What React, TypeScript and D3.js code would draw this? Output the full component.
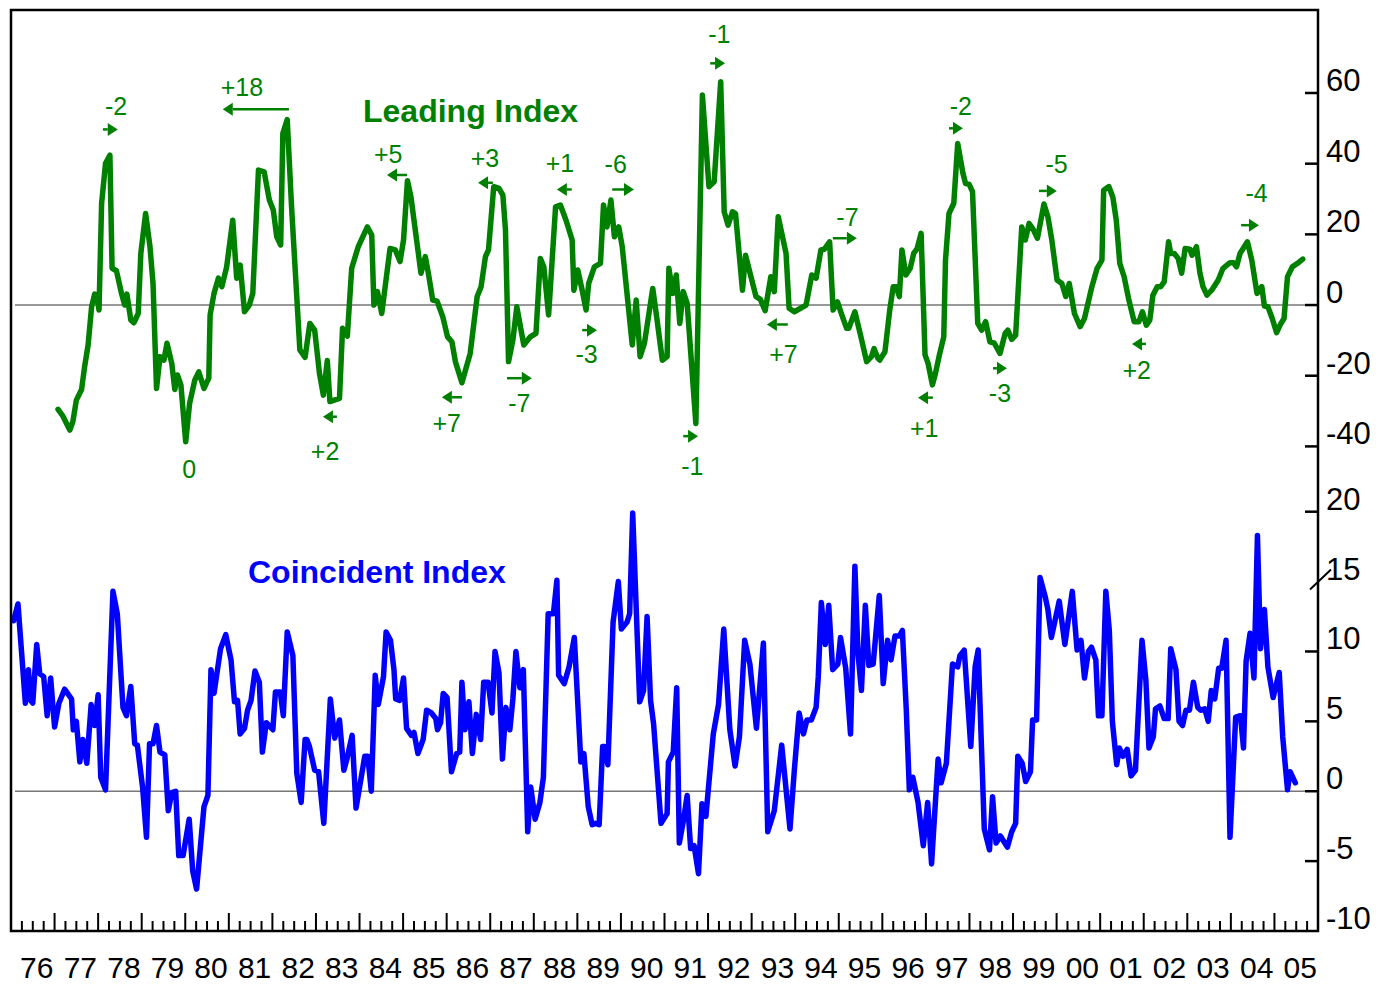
import React from "react";
import * as d3 from "d3";

// leading index, growth rate (%), [year, value]
const leading: [number, number][] = [
  [1977.08, -29.5], [1977.19, -31.4], [1977.35, -35.4], [1977.42, -33], [1977.5, -26.9], [1977.62, -23.9],
  [1977.69, -17.4], [1977.77, -11.3], [1977.85, -0.5], [1977.92, 3.1], [1977.97, 2.8], [1978.02, -1.4],
  [1978.08, 28.8], [1978.17, 40.1], [1978.27, 42.4], [1978.32, 10.4], [1978.42, 9.7], [1978.54, 3.1],
  [1978.61, 0], [1978.66, 3.1], [1978.75, -4.2], [1978.82, -5], [1978.92, -2.4], [1978.98, 14.6],
  [1979.09, 25.9], [1979.19, 16.5], [1979.26, 6.1], [1979.34, -23.6], [1979.42, -14.6], [1979.51, -15.6],
  [1979.58, -10.8], [1979.69, -16.5], [1979.76, -23.9], [1979.82, -19.8], [1979.9, -22.6], [1980.01, -38.7],
  [1980.1, -27.8], [1980.22, -21.2], [1980.31, -18.9], [1980.43, -23.6], [1980.54, -20.7], [1980.57, -2.8],
  [1980.66, 3.3], [1980.76, 7.6], [1980.84, 5.2], [1980.95, 10.8], [1981.09, 24.0], [1981.18, 7.6],
  [1981.26, 11.3], [1981.36, -1.9], [1981.47, 0], [1981.55, 3.3], [1981.68, 38.2], [1981.81, 37.7],
  [1981.93, 29.7], [1982.02, 26.9], [1982.1, 19.3], [1982.19, 17], [1982.24, 48.6], [1982.34, 52.5],
  [1982.44, 27.8], [1982.63, -12.7], [1982.75, -14.8], [1982.86, -5.2], [1982.97, -7.1], [1983.08, -19.3],
  [1983.17, -25.5], [1983.26, -15.7], [1983.32, -27.3], [1983.54, -26.4], [1983.61, -6.6], [1983.72, -8.8],
  [1983.82, 10.4], [1983.97, 16.5], [1984.18, 22.1], [1984.28, 19.8], [1984.33, 0], [1984.41, 3.8],
  [1984.51, -2.4], [1984.7, 16], [1984.82, 15.6], [1984.93, 12.3], [1985.01, 18.4], [1985.1, 35.2],
  [1985.18, 30.6], [1985.28, 21.2], [1985.41, 9.0], [1985.51, 13.7], [1985.58, 9.0], [1985.68, 1.4],
  [1985.78, 1.1], [1985.91, -3.3], [1986.02, -9], [1986.12, -10.4], [1986.2, -16], [1986.35, -22],
  [1986.54, -13.7], [1986.7, 2.4], [1986.79, 5.2], [1986.89, 13.7], [1986.96, 15.6], [1987.08, 33.5],
  [1987.2, 33.0], [1987.29, 31.1], [1987.35, 21.2], [1987.42, -16], [1987.52, -9.9], [1987.61, -0.5],
  [1987.77, -11.3], [1987.92, -9], [1988.05, -8], [1988.15, 13.2], [1988.23, 10.8], [1988.34, -2.8],
  [1988.5, 27.8], [1988.61, 28.3], [1988.74, 24], [1988.88, 18.4], [1988.92, 4.2], [1989.01, 9.9],
  [1989.11, 4.2], [1989.2, -1.4], [1989.26, 6.1], [1989.39, 10.8], [1989.53, 11.8], [1989.6, 28.3],
  [1989.68, 22.1], [1989.77, 29.7], [1989.85, 19.3], [1989.95, 22.1], [1990.03, 16.5], [1990.26, -11.3],
  [1990.35, 1.4], [1990.44, -14.6], [1990.54, -10.8], [1990.73, 4.7], [1990.81, -2.4], [1990.95, -15.6],
  [1991.06, -14.6], [1991.1, 10.4], [1991.19, 3.3], [1991.27, 8.5], [1991.35, -5.2], [1991.43, 3.8],
  [1991.52, 0.5], [1991.72, -33.5], [1991.87, 59.4], [1992.02, 33.5], [1992.14, 34.9], [1992.29, 63.2],
  [1992.37, 26.4], [1992.46, 22.6], [1992.56, 26.4], [1992.63, 25.9], [1992.79, 4.2], [1992.86, 14.1],
  [1993.1, 2.4], [1993.2, 1.6], [1993.31, -1.6], [1993.44, 8], [1993.52, 3.8], [1993.61, 25],
  [1993.79, 14.6], [1993.86, -0.9], [1993.98, -1.9], [1994.25, 0], [1994.38, 8.5], [1994.48, 7.6],
  [1994.59, 15.6], [1994.67, 15.8], [1994.79, 17.9], [1994.87, -1.4], [1994.97, 0.9], [1995.06, -2.4],
  [1995.18, -6.6], [1995.23, -6.6], [1995.37, -1.9], [1995.49, -8], [1995.64, -16], [1995.75, -14.6],
  [1995.81, -12.3], [1995.9, -15.1], [1995.94, -15.6], [1996.06, -13.2], [1996.17, -1.4], [1996.25, 5.2],
  [1996.32, 5.2], [1996.39, 2.4], [1996.45, 15.6], [1996.54, 8.5], [1996.64, 10.4], [1996.72, 14.6],
  [1996.8, 16], [1996.89, 20.3], [1996.98, -14.1], [1997.05, -16.5], [1997.15, -22.6], [1997.22, -19.3],
  [1997.31, -14.1], [1997.41, -9], [1997.45, 12.7], [1997.53, 25.9], [1997.64, 28.8], [1997.73, 45.7],
  [1997.85, 37.3], [1997.91, 34.4], [1997.99, 34.2], [1998.07, 32.1], [1998.19, -5.2], [1998.28, -7.1],
  [1998.37, -4.7], [1998.47, -10.4], [1998.57, -10.8], [1998.7, -13.7], [1998.82, -8], [1998.88, -7.1],
  [1998.97, -9.7], [1999.06, -8.5], [1999.2, 22.1], [1999.28, 18.4], [1999.37, 23.1], [1999.47, 21.2],
  [1999.56, 18.9], [1999.71, 28.6], [1999.8, 25], [1999.89, 18.4], [2000.01, 7.1], [2000.12, 6.1],
  [2000.21, 2.4], [2000.29, 6.1], [2000.41, -2.4], [2000.54, -6.1], [2000.64, -3.8], [2000.81, 5.2],
  [2000.93, 10.4], [2001.04, 12.7], [2001.08, 32.5], [2001.2, 33.5], [2001.29, 30.6], [2001.37, 24],
  [2001.45, 11.8], [2001.55, 8], [2001.65, 1.9], [2001.78, -4.7], [2001.89, -4.7], [2001.97, -1.9],
  [2002.06, -5.7], [2002.14, -4.2], [2002.21, 2.8], [2002.31, 5.2], [2002.39, 5.2], [2002.47, 6.6],
  [2002.57, 17.9], [2002.62, 14.6], [2002.7, 14.6], [2002.79, 13.2], [2002.87, 9], [2002.95, 16],
  [2003.06, 15.8], [2003.11, 14.1], [2003.21, 16.5], [2003.29, 9], [2003.36, 5.2], [2003.45, 2.8],
  [2003.56, 4.2], [2003.71, 7.1], [2003.82, 10.4], [2003.98, 12], [2004.06, 12], [2004.13, 10.8],
  [2004.21, 14.6], [2004.38, 17.9], [2004.48, 12.7], [2004.6, 3.3], [2004.71, 5.2], [2004.77, -0.3],
  [2004.85, -0.5], [2004.95, -3.8], [2005.05, -7.8], [2005.14, -5.4], [2005.22, -3.8], [2005.3, 8],
  [2005.41, 10.8], [2005.53, 11.8], [2005.65, 13.0],
];

// coincident index, growth rate (%), [year, value]
const coincident: [number, number][] = [
  [1976.06, 12.2], [1976.16, 13.4], [1976.33, 6.3], [1976.4, 8.7], [1976.45, 6.5], [1976.5, 6.3],
  [1976.59, 10.5], [1976.66, 8.4], [1976.75, 8.2], [1976.83, 5.4], [1976.91, 8.1], [1977.0, 4.6],
  [1977.1, 6.3], [1977.23, 7.3], [1977.39, 6.6], [1977.43, 4.4], [1977.5, 5.0], [1977.58, 2.1],
  [1977.65, 3.7], [1977.74, 2.0], [1977.84, 6.2], [1977.92, 4.7], [1978.0, 6.9], [1978.06, 1.0],
  [1978.17, 0.1], [1978.34, 14.3], [1978.44, 12.7], [1978.57, 6.0], [1978.65, 5.4], [1978.75, 7.5],
  [1978.84, 3.4], [1978.9, 3.3], [1979.02, 0.3], [1979.11, -3.3], [1979.18, 3.4], [1979.26, 3.4],
  [1979.34, 4.7], [1979.42, 2.8], [1979.53, 2.6], [1979.61, -1.4], [1979.69, -0.1], [1979.78, 0],
  [1979.85, -4.6], [1979.95, -4.6], [1980.09, -2.0], [1980.17, -5.7], [1980.26, -7.0], [1980.43, -1.1],
  [1980.52, -0.3], [1980.59, 8.7], [1980.66, 7.0], [1980.81, 10.2], [1980.93, 11.2], [1981.05, 9.4],
  [1981.13, 6.4], [1981.2, 6.5], [1981.26, 4.1], [1981.36, 4.5], [1981.43, 5.8], [1981.51, 6.5],
  [1981.6, 8.6], [1981.7, 7.8], [1981.77, 2.8], [1981.86, 4.9], [1982.01, 4.4], [1982.07, 7.1],
  [1982.18, 7.1], [1982.25, 5.4], [1982.34, 11.4], [1982.47, 9.7], [1982.56, 1.3], [1982.66, -0.8],
  [1982.75, 3.7], [1982.79, 3.7], [1982.85, 3.2], [1982.97, 1.5], [1983.06, 1.4], [1983.18, -2.3],
  [1983.33, 6.6], [1983.43, 3.8], [1983.54, 5.1], [1983.64, 1.5], [1983.71, 2.3], [1983.83, 4.0],
  [1983.92, -1.2], [1984.12, 2.5], [1984.19, 2.5], [1984.27, 0], [1984.36, 8.3], [1984.43, 6.2],
  [1984.55, 8.2], [1984.61, 11.4], [1984.71, 10.8], [1984.79, 8.7], [1984.83, 6.6], [1984.92, 6.5],
  [1985.01, 8.1], [1985.08, 4.5], [1985.19, 4.0], [1985.25, 4.2], [1985.34, 2.7], [1985.46, 3.7],
  [1985.54, 5.8], [1985.65, 5.6], [1985.75, 5.2], [1985.79, 4.4], [1985.86, 4.9], [1985.92, 7.0],
  [1986.01, 6.7], [1986.11, 1.4], [1986.23, 2.7], [1986.3, 2.8], [1986.35, 7.8], [1986.42, 4.4],
  [1986.51, 6.4], [1986.59, 2.7], [1986.68, 5.5], [1986.78, 3.7], [1986.85, 7.8], [1986.95, 7.8],
  [1987.04, 5.6], [1987.11, 10.0], [1987.2, 8.5], [1987.28, 2.3], [1987.36, 6.0], [1987.45, 4.4],
  [1987.52, 6.6], [1987.59, 10.0], [1987.68, 7.4], [1987.76, 8.7], [1987.86, -2.9], [1987.93, 0.3],
  [1988.03, -2.0], [1988.14, -0.8], [1988.22, 1.0], [1988.33, 12.7], [1988.45, 12.7], [1988.53, 15.1],
  [1988.57, 8.3], [1988.7, 7.7], [1988.81, 8.9], [1988.93, 11.0], [1989.08, 2.1], [1989.15, 2.7],
  [1989.25, -1.1], [1989.34, -2.4], [1989.42, -2.3], [1989.5, -2.4], [1989.58, 3.2], [1989.62, 3.2],
  [1989.7, 1.9], [1989.82, 12.1], [1989.94, 15.0], [1990.01, 11.6], [1990.14, 12.1], [1990.2, 12.7],
  [1990.27, 19.9], [1990.43, 6.4], [1990.52, 7.2], [1990.6, 12.5], [1990.68, 6.5], [1990.75, 4.8],
  [1990.92, -2.3], [1991.06, -1.6], [1991.09, 2.1], [1991.2, 2.8], [1991.28, 7.4], [1991.34, -3.7],
  [1991.44, -2.0], [1991.52, -0.3], [1991.6, -4.1], [1991.68, -3.9], [1991.78, -5.9], [1991.86, -0.9],
  [1991.95, -1.8], [1992.12, 4.1], [1992.24, 6.2], [1992.36, 11.6], [1992.5, 4.4], [1992.62, 1.8],
  [1992.72, 3.9], [1992.84, 10.8], [1992.96, 9.1], [1993.11, 4.5], [1993.27, 10.6], [1993.37, -2.9],
  [1993.52, -1.4], [1993.69, 3.3], [1993.88, -2.7], [1993.98, 1.5], [1994.09, 5.6], [1994.19, 4.1],
  [1994.27, 5.1], [1994.37, 5.1], [1994.48, 6.0], [1994.53, 8.2], [1994.6, 13.5], [1994.69, 10.5],
  [1994.77, 13.3], [1994.86, 8.7], [1994.98, 9.1], [1995.04, 11.0], [1995.16, 8.8], [1995.27, 4.1],
  [1995.37, 16.1], [1995.44, 9.9], [1995.52, 7.2], [1995.61, 13.3], [1995.69, 9.0], [1995.79, 9.1],
  [1995.93, 14.0], [1996.02, 7.7], [1996.12, 10.8], [1996.2, 9.4], [1996.29, 11.1], [1996.39, 11.1],
  [1996.46, 11.5], [1996.55, 5.8], [1996.62, 0.1], [1996.7, 1.0], [1996.82, -0.8], [1996.94, -3.9],
  [1997.04, -0.8], [1997.13, -5.2], [1997.28, 2.3], [1997.35, 0.6], [1997.47, 2.0], [1997.61, 9.1],
  [1997.73, 8.9], [1997.78, 9.7], [1997.88, 10.1], [1998.03, 3.2], [1998.13, 8.9], [1998.2, 10.1],
  [1998.34, -2.7], [1998.46, -4.2], [1998.53, -0.4], [1998.61, -3.7], [1998.71, -3.2], [1998.87, -4.0],
  [1998.97, -2.9], [1999.06, -2.3], [1999.11, 2.5], [1999.21, 2.0], [1999.29, 0.7], [1999.4, 1.4],
  [1999.45, 5.1], [1999.54, 5.1], [1999.62, 15.3], [1999.74, 13.9], [1999.8, 13.0], [1999.88, 11.0],
  [2000.06, 13.6], [2000.19, 10.5], [2000.36, 14.3], [2000.47, 10.1], [2000.56, 10.8], [2000.64, 8.1],
  [2000.73, 10.0], [2000.8, 10.3], [2000.9, 9.4], [2000.96, 5.4], [2001.04, 5.4], [2001.13, 14.3],
  [2001.21, 11.5], [2001.28, 5.0], [2001.38, 1.9], [2001.44, 3.1], [2001.52, 2.5], [2001.62, 3.0],
  [2001.71, 1.1], [2001.81, 1.5], [2001.96, 10.8], [2002.05, 7.9], [2002.12, 3.1], [2002.22, 3.9],
  [2002.27, 5.9], [2002.37, 6.1], [2002.47, 5.2], [2002.56, 5.2], [2002.62, 10.2], [2002.74, 8.7],
  [2002.81, 5.0], [2002.89, 4.7], [2002.97, 5.8], [2003.05, 5.8], [2003.14, 7.8], [2003.24, 6.0],
  [2003.31, 5.8], [2003.4, 5.9], [2003.48, 5.0], [2003.55, 7.2], [2003.63, 6.6], [2003.72, 8.8],
  [2003.79, 8.8], [2003.89, 10.8], [2003.98, -3.3], [2004.11, 5.3], [2004.22, 5.4], [2004.29, 3.1],
  [2004.35, 9.3], [2004.44, 11.3], [2004.53, 8.1], [2004.61, 18.3], [2004.68, 10.2], [2004.77, 13.0],
  [2004.85, 8.9], [2004.97, 6.7], [2005.11, 8.5], [2005.19, 3.9], [2005.3, 0.1], [2005.36, 1.4],
  [2005.48, 0.6],
];

const years = d3.range(1976, 2006);
const leadingTicks = [-40, -20, 0, 20, 40, 60];
const coincidentTicks = [-10, -5, 0, 5, 10, 15, 20];

// lead/lag labels on the leading index: text at (tx, tv), arrow centred at (ax, av)
type Note = { label: string; tx: number; tv: number; ax?: number; av?: number; dir?: number; len?: number };
const notes: Note[] = [
  { label: "-2", tx: 1978.41, tv: 53.8, ax: 1978.28, av: 49.7, dir: 1, len: 0.34 },
  { label: "+18", tx: 1981.3, tv: 59.1, ax: 1981.62, av: 55.4, dir: -1, len: 1.52 },
  { label: "+5", tx: 1984.66, tv: 40.3, ax: 1984.86, av: 36.8, dir: -1, len: 0.46 },
  { label: "+3", tx: 1986.88, tv: 39.1, ax: 1986.89, av: 34.6, dir: -1, len: 0.34 },
  { label: "+1", tx: 1988.6, tv: 37.7, ax: 1988.7, av: 32.7, dir: -1, len: 0.34 },
  { label: "-6", tx: 1989.88, tv: 37.4, ax: 1990.05, av: 32.7, dir: 1, len: 0.5 },
  { label: "-1", tx: 1992.26, tv: 74.1, ax: 1992.22, av: 68.4, dir: 1, len: 0.34 },
  { label: "-7", tx: 1995.2, tv: 22.4, ax: 1995.14, av: 18.9, dir: 1, len: 0.55 },
  { label: "-2", tx: 1997.8, tv: 53.8, ax: 1997.69, av: 50.0, dir: 1, len: 0.32 },
  { label: "-5", tx: 2000.0, tv: 37.3, ax: 1999.8, av: 32.3, dir: 1, len: 0.41 },
  { label: "-4", tx: 2004.59, tv: 29.2, ax: 2004.44, av: 22.6, dir: 1, len: 0.41 },
  { label: "0", tx: 1980.09, tv: -49.0 },
  { label: "+2", tx: 1983.21, tv: -43.9, ax: 1983.32, av: -31.6, dir: -1, len: 0.32 },
  { label: "+7", tx: 1986.0, tv: -35.9, ax: 1986.12, av: -26.1, dir: -1, len: 0.46 },
  { label: "-7", tx: 1987.67, tv: -30.2, ax: 1987.67, av: -20.7, dir: 1, len: 0.57 },
  { label: "-3", tx: 1989.21, tv: -16.4, ax: 1989.28, av: -7.1, dir: 1, len: 0.34 },
  { label: "-1", tx: 1991.64, tv: -48.1, ax: 1991.6, av: -37.1, dir: 1, len: 0.34 },
  { label: "+7", tx: 1993.73, tv: -16.5, ax: 1993.59, av: -5.5, dir: -1, len: 0.48 },
  { label: "+1", tx: 1996.96, tv: -37.3, ax: 1996.99, av: -26.2, dir: -1, len: 0.34 },
  { label: "-3", tx: 1998.7, tv: -27.4, ax: 1998.7, av: -17.9, dir: 1, len: 0.32 },
  { label: "+2", tx: 2001.84, tv: -21.0, ax: 2001.89, av: -11.0, dir: -1, len: 0.32 },
];

const GREEN = "#008000";
const BLUE = "#0000ff";
const FONT = "'Liberation Sans', Arial, sans-serif";

export default function App() {
  const left = 11, right = 1318, top = 10, bottom = 931;
  const x = d3.scaleLinear().domain([1976, 2006]).range([left, right]);
  const yL = d3.scaleLinear().domain([-40, 60]).range([446.4, 93]);
  const yC = d3.scaleLinear().domain([-10, 20]).range([bottom, 511.7]);

  const lineL = d3.line<[number, number]>().x((d) => x(d[0])).y((d) => yL(d[1]));
  const lineC = d3.line<[number, number]>().x((d) => x(d[0])).y((d) => yC(d[1]));

  const quarters = d3.range(1976, 2006, 0.25);

  function arrow(n: Note, i: number) {
    if (n.ax === undefined) return null;
    const cx = x(n.ax);
    const cy = yL(n.av!);
    const half = (x(n.ax + n.len!) - x(n.ax)) / 2;
    const d = n.dir!;
    const tip = cx + d * half;
    const head = 10;
    return (
      <g key={"a" + i}>
        <line x1={cx - d * half} y1={cy} x2={tip - d * head} y2={cy} stroke={GREEN} strokeWidth={2.5} />
        <path d={`M${tip},${cy}L${tip - d * head},${cy - 6.5}L${tip - d * head},${cy + 6.5}Z`} fill={GREEN} />
      </g>
    );
  }

  return (
    <svg width={1380} height={984} style={{ position: "absolute", left: 0, top: 0 }} fontFamily={FONT}>
      <rect width={1380} height={984} fill="#fff" />
      {/* zero lines */}
      <line x1={15} x2={right} y1={yL(0)} y2={yL(0)} stroke="#777" strokeWidth={1.5} />
      <line x1={15} x2={right} y1={yC(0)} y2={yC(0)} stroke="#777" strokeWidth={1.5} />

      <path d={lineL(leading)!} fill="none" stroke={GREEN} strokeWidth={5.5} strokeLinejoin="round" strokeLinecap="round" />
      <path d={lineC(coincident)!} fill="none" stroke={BLUE} strokeWidth={5.5} strokeLinejoin="round" strokeLinecap="round" />

      {/* frame */}
      <rect x={left} y={top} width={right - left} height={bottom - top} fill="none" stroke="#000" strokeWidth={2.5} />

      {/* bottom ticks */}
      {quarters.map((q, i) => (
        <line key={"q" + i} x1={x(q)} x2={x(q)} y1={bottom} y2={bottom - (i % 4 === 0 ? 18 : 10)} stroke="#000" strokeWidth={2} />
      ))}
      {years.map((yr) => (
        <text key={yr} x={x(yr + 0.5) + 4} y={978} fontSize={30} textAnchor="middle" fill="#000">
          {String(yr % 100).padStart(2, "0")}
        </text>
      ))}

      {/* right axis, leading */}
      {leadingTicks.map((t) => (
        <g key={"l" + t}>
          <line x1={right - 13} x2={right} y1={yL(t)} y2={yL(t)} stroke="#000" strokeWidth={2.5} />
          <text x={1326} y={yL(t) - 2} fontSize={31} fill="#000">{t}</text>
        </g>
      ))}
      {/* right axis, coincident */}
      {coincidentTicks.map((t) =>
        <g key={"c" + t}>
          {t === 15 ? (
            <line x1={right - 8} x2={right + 13} y1={yC(t) + 8} y2={yC(t) - 12} stroke="#000" strokeWidth={2} />
          ) : t > -10 ? (
            <line x1={right - 13} x2={right} y1={yC(t)} y2={yC(t)} stroke="#000" strokeWidth={2.5} />
          ) : null}
          <text x={1326} y={yC(t) - 2} fontSize={31} fill="#000">{t}</text>
        </g>
      )}

      {/* titles */}
      <text x={363} y={122} fontSize={32} fontWeight="bold" fill={GREEN}>Leading Index</text>
      <text x={248} y={583} fontSize={32} fontWeight="bold" fill={BLUE}>Coincident Index</text>

      {/* lead/lag notes */}
      {notes.map((n, i) => (
        <g key={"n" + i}>
          <text x={x(n.tx)} y={yL(n.tv)} fontSize={25} textAnchor="middle" fill={GREEN}>{n.label}</text>
          {arrow(n, i)}
        </g>
      ))}
    </svg>
  );
}
